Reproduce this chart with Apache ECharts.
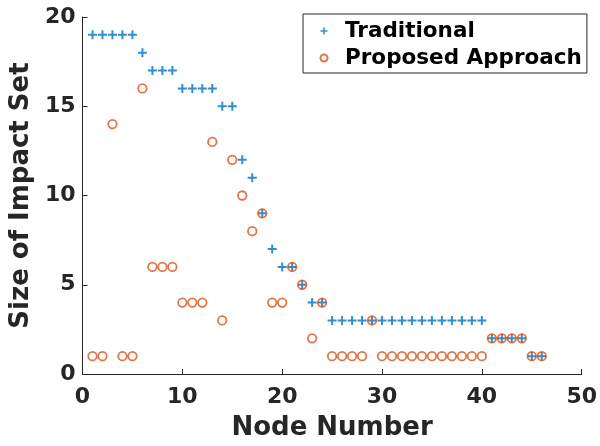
<!DOCTYPE html>
<html>
<head>
<meta charset="utf-8">
<script src="https://cdn.jsdelivr.net/npm/echarts@6/dist/echarts.min.js"></script>
<style>
  html, body { margin: 0; padding: 0; background: #fff; }
  #chart { width: 600px; height: 446px; }
</style>
</head>
<body>
<div id="chart"></div>
<script>
// Node indices on the x axis
const nodes = [1, 2, 3, 4, 5, 6, 7, 8, 9, 10, 11, 12, 13, 14, 15, 16, 17, 18, 19, 20,
  21, 22, 23, 24, 25, 26, 27, 28, 29, 30, 31, 32, 33, 34, 35, 36, 37, 38, 39, 40,
  41, 42, 43, 44, 45, 46];

// Impact set size per node, traditional method
const traditional = [19, 19, 19, 19, 19, 18, 17, 17, 17, 16, 16, 16, 16, 15, 15, 12, 11, 9, 7, 6,
  6, 5, 4, 4, 3, 3, 3, 3, 3, 3, 3, 3, 3, 3, 3, 3, 3, 3, 3, 3,
  2, 2, 2, 2, 1, 1];

// Impact set size per node, proposed approach
const proposed = [1, 1, 14, 1, 1, 16, 6, 6, 6, 4, 4, 4, 13, 3, 12, 10, 8, 9, 4, 4,
  6, 5, 2, 4, 1, 1, 1, 1, 3, 1, 1, 1, 1, 1, 1, 1, 1, 1, 1, 1,
  2, 2, 2, 2, 1, 1];

const seriesNames = ['Traditional', 'Proposed Approach'];
const xTitle = 'Node Number';
const yTitle = 'Size of Impact Set';

const FONT = 'DejaVu Sans';
const AXIS_COLOR = '#262626';
const BLUE = '#0072BD';
const ORANGE = '#D95319';
// plus-shaped marker built from two filled bars
const PLUS = 'path://M3.9,0 h2.2 v10 h-2.2 z M0,3.9 h10 v2.2 h-10 z';

const pair = (ys) => nodes.map((x, i) => [x, ys[i]]);

const axisCommon = {
  type: 'value',
  axisLine: { show: true, lineStyle: { color: AXIS_COLOR, width: 1 } },
  axisTick: { show: true, inside: true, length: 5, lineStyle: { color: AXIS_COLOR } },
  splitLine: { show: false },
  nameLocation: 'middle',
  nameTextStyle: { fontFamily: FONT, fontWeight: 'bold', fontSize: 26, color: AXIS_COLOR }
};

const chart = echarts.init(document.getElementById('chart'), null, { renderer: 'canvas' });
chart.setOption({
  animation: false,
  backgroundColor: '#fff',
  grid: { left: 82, right: 18, top: 17, bottom: 69 },
  xAxis: Object.assign({}, axisCommon, {
    min: 0, max: 50, interval: 10,
    name: xTitle, nameGap: 41,
    axisLabel: { margin: 12, fontFamily: FONT, fontWeight: 'bold', fontSize: 22, color: AXIS_COLOR }
  }),
  yAxis: Object.assign({}, axisCommon, {
    min: 0, max: 20, interval: 5,
    name: yTitle, nameGap: 48,
    axisLabel: { margin: 7, fontFamily: FONT, fontWeight: 'bold', fontSize: 22, color: AXIS_COLOR }
  }),
  legend: {
    orient: 'vertical',
    left: 303, top: 14,
    padding: [6, 5, 4, 15],
    itemWidth: 32, itemHeight: 7, itemGap: 5,
    borderColor: AXIS_COLOR, borderWidth: 1,
    backgroundColor: '#fff',
    selectedMode: false,
    textStyle: { fontFamily: FONT, fontWeight: 'bold', fontSize: 21.5, lineHeight: 20, color: '#000' },
    data: seriesNames
  },
  series: [
    {
      name: seriesNames[0],
      type: 'scatter',
      data: pair(traditional),
      symbol: PLUS,
      symbolSize: 9,
      itemStyle: { color: BLUE },
      emphasis: { disabled: true }
    },
    {
      name: seriesNames[1],
      type: 'scatter',
      data: pair(proposed),
      symbol: 'circle',
      symbolSize: 8.5,
      itemStyle: { color: 'none', borderColor: ORANGE, borderWidth: 1.8 },
      emphasis: { disabled: true }
    }
  ]
});
</script>
</body>
</html>
